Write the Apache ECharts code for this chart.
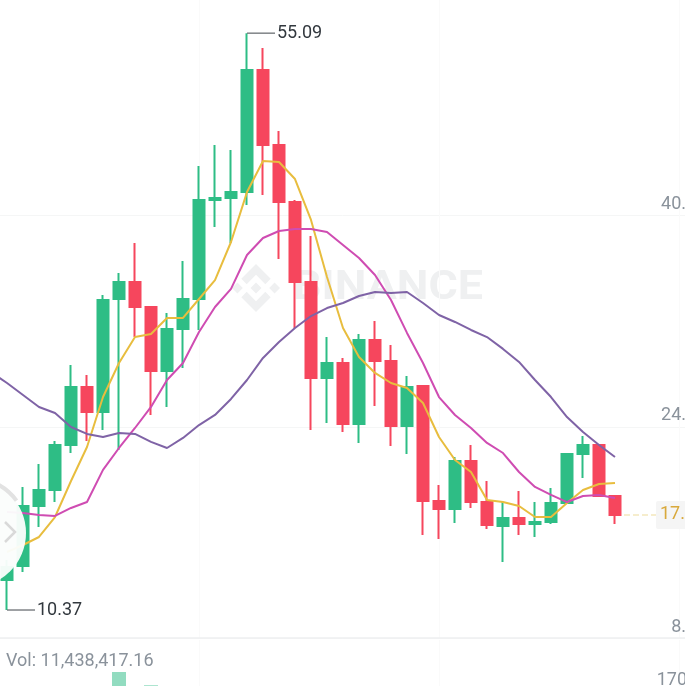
<!DOCTYPE html>
<html>
<head>
<meta charset="utf-8">
<style>
  html, body { margin: 0; padding: 0; background: #fff; overflow: hidden; }
  #chart { width: 685px; height: 686px; }
</style>
<script src="https://cdn.jsdelivr.net/npm/echarts@6/dist/echarts.min.js"></script>
</head>
<body>
<div id="chart"></div>
<script>
// first slot sits off the left edge, only the purple line has a value there
const opens = [null, 12.70, 13.78, 18.43, 19.67, 23.16, 27.66, 25.72, 34.48, 35.80, 33.86, 28.90, 32.15, 34.48, 42.15, 42.31, 42.77, 52.23, 46.42, 42.00, 35.80, 28.36, 29.52, 24.79, 31.30, 29.67, 24.63, 27.73, 18.82, 18.20, 21.92, 18.74, 16.88, 17.50, 17.04, 17.19, 18.66, 22.46, 23.16, 19.21];
const closes = [null, 13.71, 18.43, 19.67, 23.16, 27.66, 25.72, 34.40, 35.80, 33.86, 28.90, 32.15, 34.48, 42.15, 42.31, 42.77, 52.23, 46.42, 42.00, 35.80, 28.36, 29.52, 24.79, 31.30, 29.67, 24.63, 27.66, 18.82, 18.20, 21.92, 18.74, 16.96, 17.50, 17.04, 17.19, 18.66, 22.46, 23.16, 19.21, 17.74];
const lows = [null, 10.37, 13.32, 16.80, 18.74, 22.54, 23.47, 24.32, 22.77, 31.53, 25.49, 26.11, 29.13, 32.08, 40.06, 38.82, 41.77, 42.54, 37.58, 32.23, 24.32, 24.87, 24.17, 23.32, 26.18, 23.08, 22.46, 16.18, 15.87, 17.11, 18.28, 16.65, 14.09, 16.18, 16.03, 17.04, 18.66, 20.60, 19.21, 17.04];
const highs = [null, 14.25, 19.91, 21.69, 23.47, 29.36, 28.59, 34.79, 36.49, 38.82, 33.94, 33.39, 37.42, 44.79, 46.42, 46.03, 55.09, 53.94, 47.50, 42.15, 39.36, 31.53, 29.91, 31.77, 32.77, 30.91, 28.51, 27.73, 20.06, 22.23, 23.16, 20.37, 18.74, 19.60, 18.74, 19.83, 22.46, 23.86, 23.16, 19.21];

const maYellow = [null, 14.87, 15.41, 16.03, 17.58, 20.37, 23.01, 26.88, 29.52, 31.53, 31.77, 33.01, 33.01, 34.48, 35.95, 38.90, 42.77, 45.18, 45.10, 43.78, 40.61, 36.19, 32.23, 29.99, 28.75, 27.97, 27.58, 26.42, 23.78, 22.00, 21.07, 18.90, 18.74, 18.43, 17.58, 17.58, 18.66, 19.67, 20.14, 20.22];
const maPink = [null, 17.97, 17.89, 17.74, 17.66, 18.28, 18.74, 21.23, 22.93, 24.48, 26.11, 28.20, 29.52, 31.92, 33.86, 35.26, 37.89, 39.21, 39.75, 39.91, 39.91, 39.68, 38.67, 37.66, 36.34, 34.40, 31.85, 29.52, 26.88, 25.49, 24.48, 23.32, 22.54, 21.07, 19.91, 19.29, 18.74, 19.21, 19.29, 19.06];
const maPurple = [28.82, 27.97, 27.04, 26.11, 25.64, 24.56, 24.02, 23.78, 24.09, 24.02, 23.40, 22.93, 23.71, 24.71, 25.49, 26.73, 28.20, 29.91, 31.15, 32.23, 33.16, 33.78, 34.17, 34.71, 35.02, 34.95, 35.02, 34.17, 33.24, 32.70, 32.08, 31.53, 30.61, 29.60, 28.20, 26.88, 25.33, 24.17, 23.16, 22.23];

// only two volume bars reach above the bottom edge of the picture
const volumes = [null, null, null, null, null, null, null, null, 187, null, 159];

const categories = [];
for (let i = 0; i < 44; i++) categories.push(String(i));

const priceTicks = [8.2, 24.56, 40.99];
const priceTickLabels = ["8.", "24.", "40."];
const volumeTicks = [170];
const volumeTickLabels = ["170"];
const lastPrice = 17.74;
const lastPriceLabel = "17.";
const volumeText = "Vol: 11,438,417.16";
const watermarkText = "BINANCE";

const GREEN = "#2EBD85";
const RED = "#F6465D";
const FONT = "Roboto";

const candleData = opens.map((o, i) => (o === null ? "-" : [o, closes[i], lows[i], highs[i]]));

function lineSeries(name, data, color) {
  return {
    name: name,
    type: "line",
    data: data,
    z: 4,
    symbol: "none",
    connectNulls: false,
    lineStyle: { color: color, width: 2 },
  };
}

// leader line plus value for the highest and lowest wick
function extremeMark(type) {
  return {
    type: type,
    valueDim: type === "max" ? "highest" : "lowest",
    symbol: "rect",
    symbolSize: [28, 1.2],
    symbolOffset: [14, 0],
    itemStyle: { color: "#5f6468" },
    label: {
      show: true,
      position: "right",
      distance: 2,
      color: "#32383e",
      fontFamily: FONT,
      fontSize: 18,
      formatter: (p) => p.value.toFixed(2),
    },
  };
}

// watermark logo pieces, drawn around its middle
function logoPiece(points) {
  return {
    type: "polygon",
    z: 0,
    silent: true,
    x: 256,
    y: 288,
    shape: { points: points },
    style: { fill: "#eff0f1" },
  };
}

const myChart = echarts.init(document.getElementById("chart"), null, { renderer: "canvas" });

const option = {
  animation: false,
  backgroundColor: "#fff",
  title: {
    text: volumeText,
    left: 6,
    top: 652,
    padding: 0,
    textStyle: { color: "#8a929b", fontFamily: FONT, fontSize: 18, fontWeight: "normal" },
  },
  grid: [
    { left: -17, width: 704, top: 0, height: 638, outerBoundsMode: "none" },
    { left: -17, width: 704, top: 640, height: 120, outerBoundsMode: "none" },
  ],
  xAxis: [0, 1].map((g) => ({
    type: "category",
    gridIndex: g,
    data: categories,
    axisTick: { show: false },
    axisLabel: { show: false },
    axisLine: { show: g === 0, onZero: false, lineStyle: { color: "#eeeff0", width: 1.5 } },
    splitLine: {
      show: true,
      alignWithLabel: true,
      interval: (i) => i % 15 === 13,
      lineStyle: { color: "#fafafa" },
    },
  })),
  yAxis: [
    {
      type: "value",
      gridIndex: 0,
      position: "right",
      min: 8.2,
      max: 57.66,
      axisLine: { show: false },
      axisTick: { show: false, customValues: priceTicks },
      axisLabel: {
        inside: true,
        margin: 1,
        align: "right",
        verticalAlign: "bottom",
        padding: [0, 0, 2, 0],
        color: "#8a929b",
        fontFamily: FONT,
        fontSize: 18,
        customValues: priceTicks,
        formatter: (v) => priceTickLabels[priceTicks.indexOf(v)],
      },
      splitLine: { show: true, lineStyle: { color: "#f5f6f6" } },
    },
    {
      type: "value",
      gridIndex: 1,
      position: "right",
      min: 0,
      max: 255,
      axisLine: { show: false },
      axisTick: { show: false, customValues: volumeTicks },
      axisLabel: {
        inside: true,
        margin: 0,
        align: "right",
        color: "#8a929b",
        fontFamily: FONT,
        fontSize: 18,
        customValues: volumeTicks,
        formatter: (v) => volumeTickLabels[volumeTicks.indexOf(v)],
      },
      splitLine: { show: false },
    },
  ],
  series: [
    {
      name: "price",
      type: "candlestick",
      data: candleData,
      barWidth: 12,
      z: 3,
      itemStyle: {
        color: GREEN,
        color0: RED,
        borderColor: GREEN,
        borderColor0: RED,
        borderWidth: 2,
      },
      markPoint: {
        z: 5,
        data: [extremeMark("max"), extremeMark("min")],
      },
      markLine: {
        z: 1,
        symbol: "none",
        silent: true,
        lineStyle: { color: "#f3e7bd", type: "dashed", width: 1.5 },
        label: {
          show: true,
          position: "end",
          distance: -7,
          formatter: lastPriceLabel,
          color: "#d9a93b",
          fontFamily: FONT,
          fontSize: 18,
          backgroundColor: "#f5f5f5",
          borderRadius: 2,
          padding: [5, 8, 5, 4],
        },
        data: [[{ coord: ["39", lastPrice] }, { coord: ["42", lastPrice] }]],
      },
    },
    lineSeries("yellow", maYellow, "#E8BD3E"),
    lineSeries("pink", maPink, "#CF4CB2"),
    lineSeries("purple", maPurple, "#7F63A6"),
    {
      name: "volume",
      type: "bar",
      xAxisIndex: 1,
      yAxisIndex: 1,
      barWidth: 14,
      data: volumes,
      itemStyle: { color: "#92DCC0" },
    },
  ],
  graphic: [
    // watermark behind the candles
    logoPiece([[0, -24], [14.7, -9.25], [9.3, -3.8], [0, -13.2], [-9.3, -3.8], [-14.7, -9.25]]),
    logoPiece([[0, 24], [14.7, 9.25], [9.3, 3.8], [0, 13.2], [-9.3, 3.8], [-14.7, 9.25]]),
    logoPiece([[0, -5.5], [5.5, 0], [0, 5.5], [-5.5, 0]]),
    logoPiece([[-24, 0], [-18.6, -5.4], [-13.2, 0], [-18.6, 5.4]]),
    logoPiece([[24, 0], [18.6, -5.4], [13.2, 0], [18.6, 5.4]]),
    {
      type: "text",
      z: 0,
      silent: true,
      x: 293,
      y: 289,
      scaleX: 1.12,
      style: {
        text: watermarkText,
        fill: "#eff0f1",
        font: "bold 40px Roboto",
        textVerticalAlign: "middle",
      },
    },
    // scroll-back button on the left edge
    {
      type: "circle",
      z: 50,
      silent: true,
      shape: { cx: -28, cy: 533, r: 54 },
      style: { fill: "rgba(251,253,252,0.96)" },
    },
    {
      type: "arc",
      z: 51,
      silent: true,
      shape: { cx: -28, cy: 533, r: 55, startAngle: -Math.PI / 2, endAngle: -Math.PI / 5 },
      style: { stroke: "#e2e2e2", lineWidth: 4, fill: "none" },
    },
    {
      type: "polyline",
      z: 51,
      silent: true,
      shape: { points: [[5, 522], [15, 532], [5, 542]] },
      style: { stroke: "#d9d9d9", lineWidth: 2.5, fill: "none" },
    },
  ],
};
myChart.setOption(option);
</script>
</body>
</html>
